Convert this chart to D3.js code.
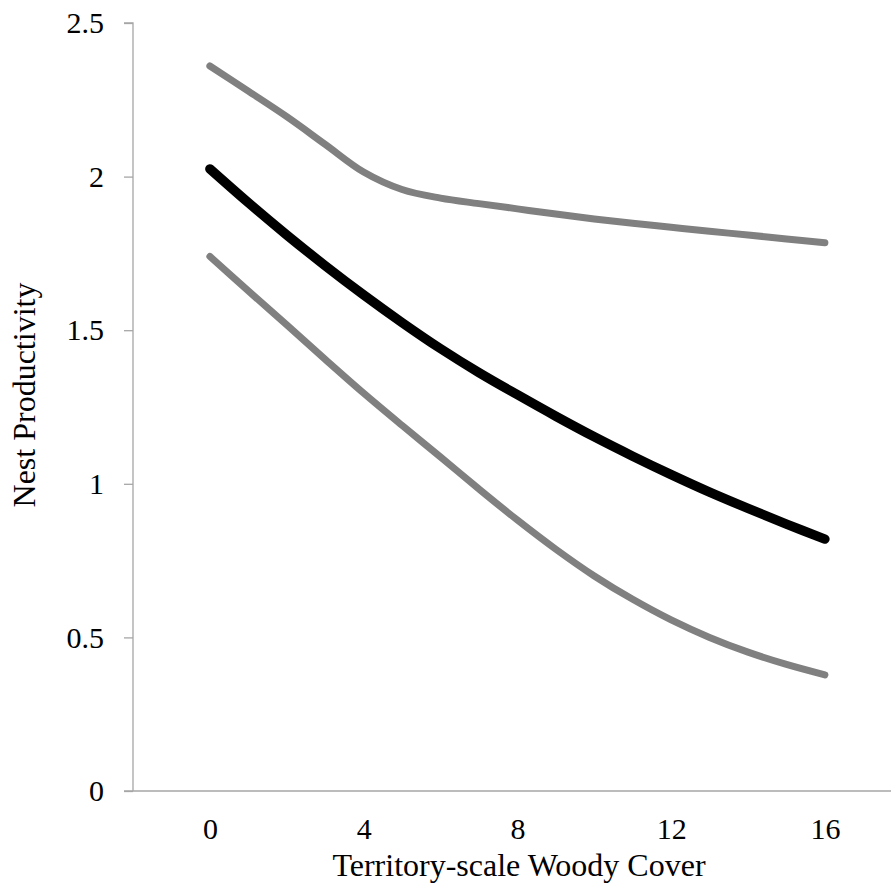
<!DOCTYPE html>
<html>
<head>
<meta charset="utf-8">
<script src="https://cdn.jsdelivr.net/npm/d3@7"></script>
<style>
  html, body { margin: 0; padding: 0; background: #fff; }
  svg { display: block; }
  text { font-family: "Liberation Serif", "Times New Roman", serif; fill: #000; }
</style>
</head>
<body>
<svg id="chart" width="891" height="895"></svg>
<script>
// Woody cover (%) at which predictions are shown
const cover = [0, 1, 2, 3, 4, 5, 6, 7, 8, 9, 10, 11, 12, 13, 14, 15, 16];
// Predicted nest productivity and its confidence limits
const predicted = [2.025, 1.915, 1.81, 1.71, 1.615, 1.525, 1.44, 1.362, 1.29, 1.22, 1.153, 1.09, 1.03, 0.973, 0.92, 0.869, 0.82];
const upperCI   = [2.36, 2.278, 2.195, 2.105, 2.015, 1.958, 1.93, 1.912, 1.895, 1.878, 1.862, 1.848, 1.835, 1.822, 1.81, 1.797, 1.785];
const lowerCI   = [1.74, 1.628, 1.517, 1.405, 1.295, 1.19, 1.087, 0.983, 0.882, 0.787, 0.70, 0.624, 0.557, 0.50, 0.452, 0.412, 0.378];
// Axis ticks
const xTicks = [0, 4, 8, 12, 16];
const yTicks = [0, 0.5, 1, 1.5, 2, 2.5];

const svg = d3.select("#chart");
const x = d3.scaleLinear().domain([-2, 17.72]).range([133, 891]);
const y = d3.scaleLinear().domain([0, 2.5]).range([791, 23]);
const axisColor = "#a6a6a6";
const tickFont = "30px";
const titleFont = "32px";

// y axis with outward ticks
const yAxis = svg.append("g")
  .attr("transform", `translate(${x(-2)},0)`)
  .call(d3.axisLeft(y).tickValues(yTicks).tickSize(9).tickPadding(20)
    .tickFormat(d => d3.format("")(d)));
yAxis.select(".domain").attr("stroke", axisColor).attr("stroke-width", 1.3)
  .attr("d", `M-9,${y(2.5)}H0V${y(0)}`);
yAxis.selectAll(".tick line").attr("stroke", axisColor).attr("stroke-width", 1.3);
yAxis.selectAll(".tick text").style("font-size", tickFont)
  .style("font-family", '"Liberation Serif", serif').attr("fill", "#000");

// x axis: baseline only, labels below
const xAxis = svg.append("g")
  .attr("transform", `translate(0,${y(0)})`)
  .call(d3.axisBottom(x).tickValues(xTicks).tickSize(0).tickPadding(27));
xAxis.select(".domain").attr("stroke", axisColor).attr("stroke-width", 1.3)
  .attr("d", `M${x(-2) - 9},0H891`);
xAxis.selectAll(".tick text").style("font-size", tickFont)
  .style("font-family", '"Liberation Serif", serif').attr("fill", "#000");

// Axis titles
svg.append("text")
  .attr("x", 519).attr("y", 876)
  .attr("text-anchor", "middle")
  .style("font-size", titleFont)
  .text("Territory-scale Woody Cover");
svg.append("text")
  .attr("transform", `translate(35,395) rotate(-90)`)
  .attr("text-anchor", "middle")
  .style("font-size", titleFont)
  .text("Nest Productivity");

// Smoothed curves through the predicted points
const line = vals => d3.line()
  .x((d, i) => x(cover[i]))
  .y(d => y(d))
  .curve(d3.curveCatmullRom.alpha(0.5))(vals);

svg.append("path").attr("d", line(upperCI))
  .attr("fill", "none").attr("stroke", "#808080").attr("stroke-width", 7)
  .attr("stroke-linecap", "round").attr("stroke-linejoin", "round");
svg.append("path").attr("d", line(lowerCI))
  .attr("fill", "none").attr("stroke", "#808080").attr("stroke-width", 7)
  .attr("stroke-linecap", "round").attr("stroke-linejoin", "round");
svg.append("path").attr("d", line(predicted))
  .attr("fill", "none").attr("stroke", "#000").attr("stroke-width", 9.5)
  .attr("stroke-linecap", "round").attr("stroke-linejoin", "round");
</script>
</body>
</html>
